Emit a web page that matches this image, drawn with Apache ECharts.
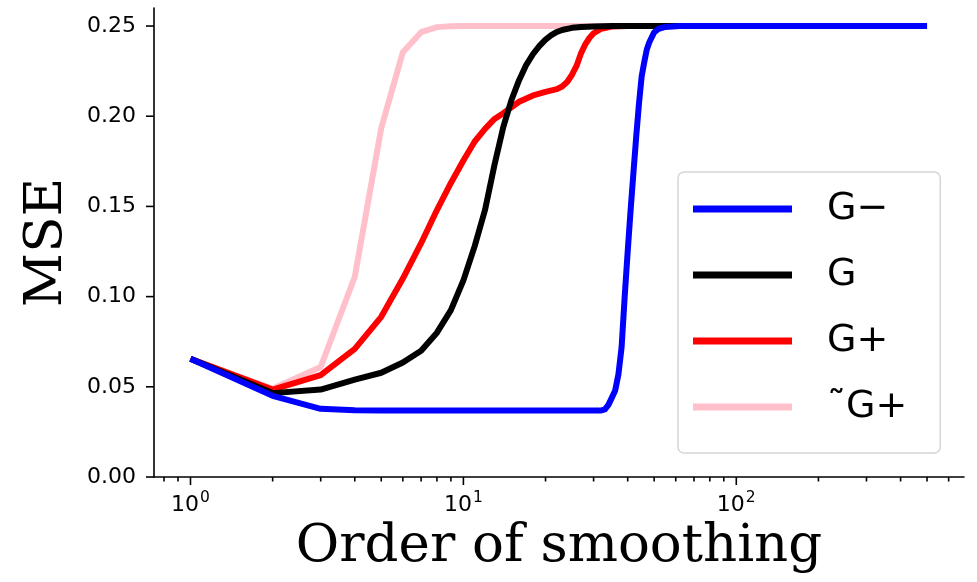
<!DOCTYPE html>
<html><head><meta charset="utf-8">
<script src="https://cdn.jsdelivr.net/npm/echarts@6/dist/echarts.min.js"></script>
<style>html,body{margin:0;padding:0;background:#fff}#c{width:977px;height:582px}</style>
</head><body><div id="c"></div>
<script>
// ---- data ----
const seriesNames = ['G\u2212', 'G', 'G+', '\u02DCG+'];
const seriesColors = ['#0000ff', '#000000', '#ff0000', '#ffc0cb'];

const gMinusX = [1,2,3,4,5,6,8,10,15,20,25,30,32,33,34,35,36,37,38,39,40,41,42,43,44,45,46,47,48,50,52,55,62,100,200,500];
const gMinusY = [0.0655,0.045,0.0378,0.0370,0.0368,0.0368,0.0368,0.0368,0.0368,0.0368,0.0368,0.0368,0.0369,0.0375,0.040,0.044,0.048,0.057,0.072,0.100,0.125,0.148,0.169,0.189,0.207,0.222,0.230,0.237,0.241,0.2465,0.2485,0.2495,0.25,0.25,0.25,0.25];

const gX = [1,2,3,4,5,6,7,8,9,10,11,12,13,14,15,16,17,18,19,20,21,22,23,25,27,30,35,50,100,200,500];
const gY = [0.0655,0.0465,0.0485,0.0540,0.0578,0.0635,0.070,0.080,0.0925,0.109,0.128,0.148,0.173,0.194,0.209,0.220,0.2285,0.2345,0.2390,0.2425,0.2450,0.2467,0.2478,0.2490,0.2495,0.2498,0.25,0.25,0.25,0.25,0.25];

const gPlusX = [1,2,3,4,5,6,7,8,9,10,11,12,13,14,15,16,18,20,22,23,24,25,26,27,28,29,30,32,35,40,100,200,500];
const gPlusY = [0.0655,0.0485,0.0565,0.0710,0.0888,0.110,0.1296,0.148,0.163,0.1755,0.186,0.193,0.1985,0.2017,0.205,0.208,0.2115,0.2135,0.2150,0.2165,0.219,0.223,0.228,0.235,0.240,0.2435,0.246,0.2485,0.2497,0.25,0.25,0.25,0.25];

const gTildeX = [1,2,3,4,5,6,7,8,9,10,100,500];
const gTildeY = [0.0655,0.0489,0.061,0.111,0.1934,0.2355,0.2466,0.2494,0.2499,0.25,0.25,0.25];

const xMajorTicks = [1, 10, 100];
const xMinorTicks = [0.8,0.9,2,3,4,5,6,7,8,9,20,30,40,50,60,70,80,90,200,300,400,500,600];
const yTicks = [0, 0.05, 0.10, 0.15, 0.20, 0.25];
const xMin = 0.735, xMax = 683, yMin = 0, yMax = 0.26;

// ---- chart ----
const chart = echarts.init(document.getElementById('c'), null, {renderer: 'canvas'});
const zip = (xs, ys) => xs.map((x, i) => [x, ys[i]]);
const seriesData = [zip(gMinusX, gMinusY), zip(gX, gY), zip(gPlusX, gPlusY), zip(gTildeX, gTildeY)];
const zOrder = [6, 5, 4, 3];

const tickData = [];
xMajorTicks.forEach(v => tickData.push([v, yMin, 8, 0]));
xMinorTicks.forEach(v => tickData.push([v, yMin, 4.5, 0]));
yTicks.forEach(v => tickData.push([xMin, v, 8, 1]));

const lineSeries = seriesNames.map((name, i) => ({
  name: name,
  type: 'line',
  data: seriesData[i],
  symbol: 'none',
  showSymbol: false,
  z: zOrder[i],
  itemStyle: {color: seriesColors[i]},
  lineStyle: {color: seriesColors[i], width: 6, join: 'round', cap: 'butt'},
  emphasis: {disabled: true},
  animation: false
}));

const tickSeries = {
  type: 'custom',
  name: 'ticks',
  silent: true,
  z: 1,
  clip: false,
  animation: false,
  data: tickData,
  renderItem: function (params, api) {
    const p = api.coord([api.value(0), api.value(1)]);
    const len = api.value(2);
    const dir = api.value(3);
    const shape = dir === 0
      ? {x1: p[0], y1: p[1], x2: p[0], y2: p[1] + len}
      : {x1: p[0], y1: p[1], x2: p[0] - len, y2: p[1]};
    return {type: 'line', shape: shape, style: {stroke: '#000', lineWidth: 1.6}};
  }
};

chart.setOption({
  animation: false,
  backgroundColor: '#fff',
  grid: {left: 154, right: 13, top: 8, bottom: 105, containLabel: false},
  xAxis: {
    type: 'log',
    min: xMin, max: xMax,
    logBase: 10,
    name: 'Order of smoothing',
    nameLocation: 'middle',
    nameGap: 44,
    nameTextStyle: {fontFamily: 'DejaVu Serif', fontSize: 53, color: '#000'},
    axisLine: {show: true, onZero: false, lineStyle: {color: '#000', width: 1.6}},
    axisTick: {show: false},
    splitLine: {show: false},
    minorTick: {show: false},
    axisLabel: {
      margin: 13,
      color: '#000',
      showMinLabel: true, showMaxLabel: true,
      hideOverlap: false,
      formatter: function (v) {
        const e = Math.log10(v);
        if (Math.abs(e - Math.round(e)) < 1e-6 && xMajorTicks.indexOf(Math.round(Math.pow(10, Math.round(e)))) >= 0) {
          return '{b|10}{s|' + Math.round(e) + '}';
        }
        return '';
      },
      rich: {
        b: {fontFamily: 'DejaVu Sans', fontSize: 22, color: '#000', lineHeight: 26, verticalAlign: 'bottom'},
        s: {fontFamily: 'DejaVu Sans', fontSize: 15.5, color: '#000', lineHeight: 26, verticalAlign: 'top', padding: [0, 0, 10, 1]}
      }
    }
  },
  yAxis: {
    type: 'value',
    min: yMin, max: yMax, interval: 0.05,
    name: 'MSE',
    nameLocation: 'middle',
    nameGap: 80,
    nameRotate: 90,
    nameTextStyle: {fontFamily: 'DejaVu Serif', fontSize: 53, color: '#000'},
    axisLine: {show: true, onZero: false, lineStyle: {color: '#000', width: 1.6}},
    axisTick: {show: false},
    splitLine: {show: false},
    axisLabel: {
      margin: 18,
      color: '#000',
      fontFamily: 'DejaVu Sans',
      fontSize: 22,
      showMaxLabel: false,
      formatter: function (v) {
        const k = v / 0.05;
        if (Math.abs(k - Math.round(k)) < 1e-6) return v.toFixed(2);
        return '';
      }
    }
  },
  legend: {
    show: true,
    data: seriesNames,
    orient: 'vertical',
    left: 678, top: 172,
    padding: [18, 33, 27, 15],
    itemGap: 28,
    itemWidth: 99,
    itemHeight: 7,
    icon: 'rect',
    selectedMode: false,
    borderColor: '#d5d5d5',
    borderWidth: 1.5,
    borderRadius: 6,
    backgroundColor: '#fff',
    textStyle: {fontFamily: 'DejaVu Sans', fontSize: 38, color: '#000', padding: [0, 0, 0, 30]}
  },
  series: lineSeries.concat([tickSeries])
});
</script>
</body></html>
